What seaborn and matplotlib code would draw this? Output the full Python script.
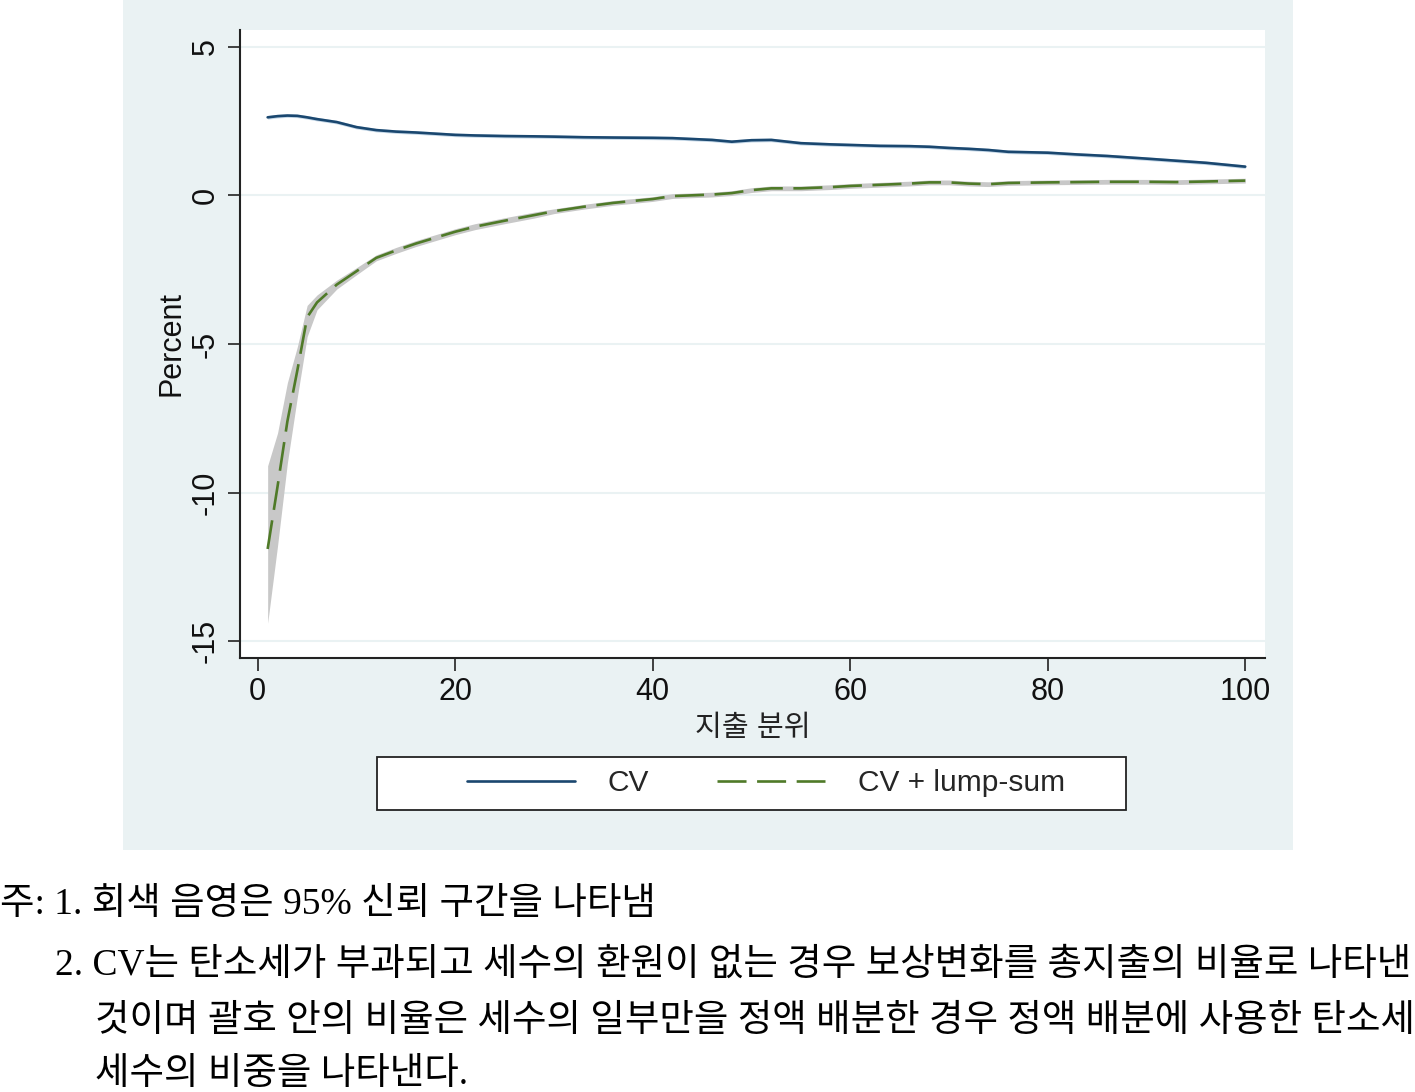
import matplotlib
matplotlib.use("Agg")
import matplotlib.pyplot as plt
from matplotlib.patches import Rectangle
from matplotlib.lines import Line2D
import seaborn as sns
import pandas as pd
import numpy as np

# ---- data ----
pctile = [1, 2, 3, 4, 5, 6, 7, 8, 10, 12, 14, 16, 18, 20, 22, 25, 28, 30, 33, 36,
          40, 42, 46, 48, 50, 52, 55, 58, 60, 63, 66, 68, 70, 72, 74, 76, 80, 83,
          86, 90, 93, 96, 100]
cv = [2.63, 2.67, 2.69, 2.68, 2.63, 2.57, 2.52, 2.47, 2.30, 2.20, 2.15, 2.12, 2.08,
      2.04, 2.02, 2.00, 1.99, 1.98, 1.96, 1.95, 1.94, 1.93, 1.87, 1.81, 1.86, 1.87,
      1.76, 1.72, 1.70, 1.67, 1.66, 1.64, 1.60, 1.57, 1.53, 1.47, 1.44, 1.38, 1.33,
      1.24, 1.17, 1.10, 0.97]
cv_lump = [-11.9, -9.8, -7.6, -5.9, -4.1, -3.6, -3.3, -3.0, -2.55, -2.1, -1.85, -1.62,
           -1.42, -1.22, -1.05, -0.85, -0.66, -0.53, -0.38, -0.25, -0.12, -0.02, 0.03,
           0.08, 0.18, 0.24, 0.24, 0.28, 0.32, 0.36, 0.40, 0.44, 0.44, 0.40, 0.38, 0.42,
           0.44, 0.45, 0.46, 0.46, 0.45, 0.47, 0.50]
cv_ci_half = [0.06] * 43
lump_ci_up = [2.8, 1.8, 1.3, 0.8, 0.4, 0.25, 0.2, 0.15, 0.12, 0.1, 0.1, 0.1, 0.1, 0.1,
              0.1, 0.1, 0.1, 0.08, 0.08, 0.08, 0.08, 0.08, 0.08, 0.08, 0.08, 0.08,
              0.08, 0.08, 0.08, 0.08, 0.08, 0.08, 0.08, 0.08, 0.08, 0.08, 0.08, 0.08,
              0.08, 0.08, 0.08, 0.08, 0.08]
lump_ci_dn = [2.5, 2.0, 1.4, 0.9, 0.65, 0.25, 0.2, 0.15, 0.12, 0.1, 0.1, 0.1, 0.1, 0.1,
              0.1, 0.1, 0.1, 0.08, 0.08, 0.08, 0.08, 0.08, 0.08, 0.08, 0.08, 0.08,
              0.08, 0.08, 0.08, 0.08, 0.08, 0.08, 0.08, 0.08, 0.08, 0.08, 0.08, 0.08,
              0.08, 0.08, 0.08, 0.08, 0.08]
series_names = ["CV", "CV + lump-sum"]
y_ticks = [5, 0, -5, -10, -15]
y_ticklabels = ["5", "0", "-5", "-10", "-15"]
x_ticks = [0, 20, 40, 60, 80, 100]
x_ticklabels = ["0", "20", "40", "60", "80", "100"]
x_label = "지출 분위"
y_label = "Percent"
notes = ["주: 1. 회색 음영은 95% 신뢰 구간을 나타냄",
         "2. CV는 탄소세가 부과되고 세수의 환원이 없는 경우 보상변화를 총지출의 비율로 나타낸",
         "것이며 괄호 안의 비율은 세수의 일부만을 정액 배분한 경우 정액 배분에 사용한 탄소세",
         "세수의 비중을 나타낸다."]

NAVY = "#1A476F"
GREEN = "#4F7A28"
PANEL = "#EAF2F3"

sns.set_theme(style="white")
plt.rcParams["font.family"] = ["Liberation Sans", "Noto Sans CJK KR"]
plt.rcParams["axes.unicode_minus"] = False

W, H = 1415, 1092
fig = plt.figure(figsize=(W / 100, H / 100), dpi=100, facecolor="white")

# outer Stata-like panel
fig.patches.append(Rectangle((123 / W, 1 - 850 / H), (1293 - 123) / W, 850 / H,
                             transform=fig.transFigure, facecolor=PANEL,
                             edgecolor="none", zorder=-10))

ax = fig.add_axes([240 / W, 1 - 658 / H, (1265 - 240) / W, (658 - 30) / H])
ax.set_zorder(1)
ax.set_facecolor("white")

df = pd.DataFrame({
    "pctile": pctile * 2,
    "value": cv + cv_lump,
    "series": [series_names[0]] * len(pctile) + [series_names[1]] * len(pctile),
})

x = np.array(pctile)
ax.fill_between(x, np.array(cv) - np.array(cv_ci_half), np.array(cv) + np.array(cv_ci_half),
                color="#C5D8E8", lw=0, zorder=2)
ax.fill_between(x, np.array(cv_lump) - np.array(lump_ci_dn), np.array(cv_lump) + np.array(lump_ci_up),
                color="#C8C8C8", lw=0, zorder=2)

sns.lineplot(data=df, x="pctile", y="value", hue="series", style="series",
             palette=[NAVY, GREEN], dashes=[(None, None), (11, 4)],
             linewidth=1.9, ax=ax, legend=False, zorder=3)

ax.set_xlim(-1.8, 102)
ax.set_ylim(-15.57, 5.57)
ax.set_yticks(y_ticks)
ax.set_yticklabels(y_ticklabels, rotation=90, va="center")
ax.set_xticks(x_ticks)
ax.set_xticklabels(x_ticklabels)
ax.tick_params(axis="both", which="major", direction="out", length=9, width=1.2,
               color="#222222", labelsize=22, labelcolor="#111111", pad=5,
               left=True, bottom=True)
ax.yaxis.grid(True, color=PANEL, lw=1.5)
ax.xaxis.grid(False)
ax.set_axisbelow(True)
for s in ["top", "right"]:
    ax.spines[s].set_visible(False)
for s in ["left", "bottom"]:
    ax.spines[s].set_color("#222222")
    ax.spines[s].set_linewidth(1.5)

ax.set_xlabel(x_label, fontsize=21, color="#222222", labelpad=5)
ax.set_ylabel(y_label, fontsize=22, color="#111111", labelpad=3)

# legend
fig.patches.append(Rectangle((377 / W, 1 - 810 / H), (1126 - 377) / W, 53 / H,
                             transform=fig.transFigure, facecolor="white",
                             edgecolor="#222222", lw=1.3, zorder=2))
handles = [Line2D([], [], color=NAVY, lw=1.9),
           Line2D([], [], color=GREEN, lw=1.9, dashes=(11, 4))]
leg = fig.legend(handles, series_names, loc="center", bbox_to_anchor=(766 / W, 1 - 783 / H),
                 ncol=2, frameon=False, fontsize=21.5, handlelength=3.6, handletextpad=1.1,
                 columnspacing=2.3)
leg.set_zorder(5)

# footnotes
note_font = ["Liberation Serif", "Noto Sans CJK KR"]
note_pos = [(0 / W, 905), (55 / W, 965), (95 / W, 1022), (95 / W, 1075)]
for (nx, ny), txt in zip(note_pos, notes):
    fig.text(nx, 1 - ny / H, txt, ha="left", va="center", fontsize=27,
             family=note_font, color="black")

fig.savefig("out.png", dpi=100, facecolor="white")
